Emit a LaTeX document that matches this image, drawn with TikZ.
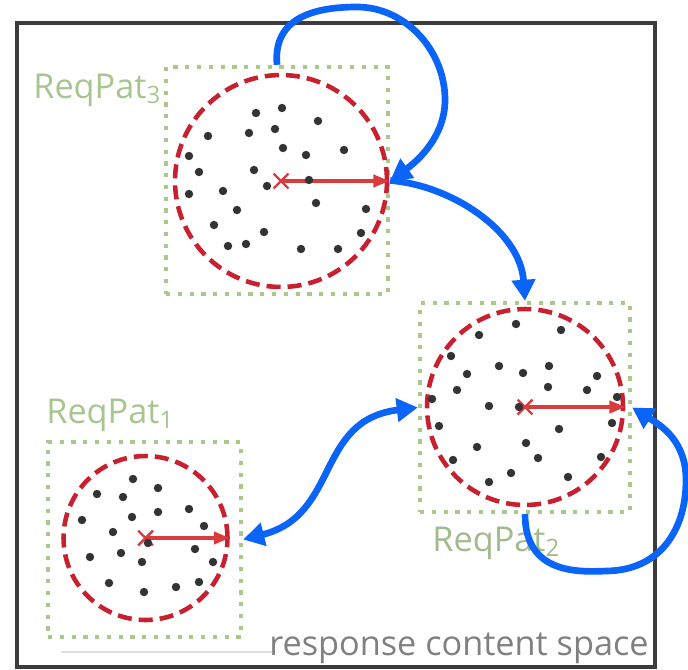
\documentclass[tikz,border=0pt]{standalone}
\usepackage{fontspec}
\setmainfont{Open Sans}
\usetikzlibrary{positioning, arrows.meta, shapes.misc}
\definecolor{linkblue}{HTML}{0A64FA}
\definecolor{ballred}{HTML}{C8202F}
\definecolor{arrowred}{HTML}{D83C3C}
\definecolor{dotgreen}{HTML}{A8C98A}
\definecolor{labgreen}{HTML}{A7C68F}
\definecolor{framegray}{HTML}{3C3C3C}

\begin{document}
\begin{tikzpicture}[x=0.02cm, y=-0.02cm, >=Stealth,
      region/.style={draw=dotgreen, line width=2.5pt, dash pattern=on 2.4pt off 4.3pt, inner sep=0pt},
      ball/.style={circle, draw=ballred, line width=2.6pt, dash pattern=on 8pt off 4pt, inner sep=0pt},
      centre/.style={cross out, draw=arrowred, line width=1.4pt, minimum size=7pt, inner sep=0pt},
      spread/.style={draw=arrowred, line width=1.9pt, -{Triangle[length=9pt, width=7pt]}},
      pt/.style={fill=black!80},
      patlabel/.style={text=labgreen, font=\fontsize{19.5}{21}\selectfont, anchor=base west, inner sep=0pt},
      link/.style={draw=linkblue, line width=3.8pt, -{Triangle[length=12pt, width=13pt]}}]

    \useasboundingbox (0,0) rectangle (688,669);
    \node[draw=framegray, line width=1.8pt, minimum width=12.76cm, minimum height=12.88cm, inner sep=0pt] (space) at (336,345) {};
    \draw[black!12, line width=0.8pt] (61,652) -- (272,652);

    \node[region, minimum width=4.44cm, minimum height=4.54cm] (pat3) at (277,180.5) {};
    \node[region, minimum width=4.2cm, minimum height=4.18cm] (pat2) at (525,407.5) {};
    \node[region, minimum width=3.86cm, minimum height=3.9cm] (pat1) at (144.5,539.5) {};

    \node[ball, minimum size=4.24cm] (ball3) at (281,181) {};
    \node[ball, minimum size=3.92cm] (ball2) at (525,407) {};
    \node[ball, minimum size=3.28cm] (ball1) at (145.5,538) {};

    \node[centre] (x3) at (ball3) {};
    \node[centre] (x2) at (ball2) {};
    \node[centre] (x1) at (ball1) {};
    \draw[spread] (ball3.center) -- (ball3.east);
    \draw[spread] (ball2.center) -- (ball2.east);
    \draw[spread] (ball1.center) -- (ball1.east);

    \foreach \p in {(256,113), (282,108), (318,121), (208,136), (249,133), (275,129), (283,148),
        (306,155), (344,150), (189,156), (199,172), (254,170), (267,186), (309,180), (189,194),
        (223,191), (316,203), (237,210), (366,209), (214,225), (264,232), (361,233), (228,246),
        (246,244), (301,249), (338,249)}
      \fill[pt] \p circle (2.4pt);
    \foreach \p in {(516,324), (561,330), (479,335), (451,356), (499,366), (523,373), (549,366),
        (467,374), (597,376), (457,390), (548,387), (587,390), (432,399), (489,406), (617,397),
        (519,407), (439,426), (559,429), (612,423), (477,447), (526,443), (538,458), (453,460),
        (601,457), (511,473), (489,482), (568,477)}
      \fill[pt] \p circle (2.4pt);
    \foreach \p in {(133,479), (158,488), (97,494), (123,497), (82,520), (132,517), (158,512),
        (189,509), (204,526), (113,532), (148,543), (195,549), (90,557), (121,553), (142,562),
        (213,562), (109,583), (144,592), (176,587), (199,582)}
      \fill[pt] \p circle (2.4pt);

    \node[patlabel] (lab3) at (33,98) {ReqPat\textsubscript{3}};
    \node[patlabel, text=labgreen!85!gray] (lab2) at (432,551) {ReqPat\textsubscript{2}};
    \node[patlabel] (lab1) at (46,423) {ReqPat\textsubscript{1}};
    \node[text=black!50, font=\fontsize{19.5}{21}\selectfont, anchor=base east, inner sep=0pt] (caption) at (649,655) {response content space};

    \draw[link] (pat3.north) .. controls (273,20) and (310,7) .. (357,7)
      .. controls (405,7) and (445,50) .. (445,100)
      .. controls (445,140) and (412,165) .. (pat3.east);
    \draw[link] (pat3.east) .. controls (450,185) and (520,230) .. (pat2.north);
    \draw[link, {Triangle[length=12pt, width=13pt]}-{Triangle[length=12pt, width=13pt]}]
      (pat1.east) .. controls (340,515) and (315,420) .. (pat2.west);
    \draw[link] (pat2.south) .. controls (525,575) and (580,572) .. (607,571)
      .. controls (660,570) and (686,530) .. (686,480)
      .. controls (686,440) and (660,425) .. (pat2.east);
  \end{tikzpicture}
\end{document}
